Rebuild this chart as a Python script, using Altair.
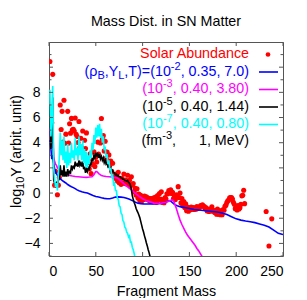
import altair as alt
import pandas as pd

# ---------------- data ----------------
solar_A = [1, 2, 3, 4, 6, 7, 9, 10, 11, 12, 13, 14, 15, 16, 17, 18, 19, 20,
           21, 22, 23, 24, 25, 26, 27, 28, 29, 30, 31, 32, 33, 34, 35, 36, 37, 38, 39, 40,
           41, 42, 43, 44, 45, 46, 47, 48, 49, 50, 51, 52, 53, 54, 55, 56, 57, 58, 59, 60,
           61, 62, 63, 64, 65, 66, 67, 68, 69, 70, 71, 72, 73, 74, 75, 76, 77, 78, 79, 80,
           81, 82, 83, 84, 85, 86, 87, 88, 89, 90, 91, 92, 93, 94, 95, 96, 97, 98, 99, 100,
           101, 102, 103, 104, 105, 106, 107, 108, 109, 110, 111, 112, 113, 114, 115, 116, 117, 118, 119, 120,
           121, 122, 123, 124, 125, 126, 127, 128, 129, 130, 131, 132, 133, 134, 135, 136, 137, 138, 139, 140,
           141, 142, 143, 144, 145, 146, 147, 148, 149, 150, 151, 152, 153, 154, 155, 156, 157, 158, 159, 160,
           161, 162, 163, 164, 165, 166, 167, 168, 169, 170, 171, 172, 173, 174, 175, 176, 177, 178, 179, 180,
           181, 182, 183, 184, 185, 186, 187, 188, 189, 190, 191, 192, 193, 194, 195, 196, 197, 198, 199, 200,
           201, 202, 203, 204, 205, 206, 207, 208, 209, 232, 235, 238]
solar_logY = [10.45, 5.98, 5.59, 9.43, 0.63, 1.72, -0.14, 0.63, 1.23, 7.00, 5.05, 6.49, 4.06, 7.37, 3.96, 4.68, 2.93, 6.49,
              3.97, 5.50, 4.76, 5.93, 5.03, 5.07, 4.93, 5.96, 4.67, 4.49, 4.02, 5.69, 3.61, 4.35, 3.59, 4.93, 3.11, 4.20, 3.54, 4.78,
              2.40, 2.60, 1.92, 3.11, 1.54, 2.30, 2.26, 3.28, 2.11, 2.85, 2.47, 4.05, 3.10, 4.73, 3.98, 5.92, 4.28, 4.56, 3.35, 4.11,
              2.76, 3.26, 2.56, 3.03, 2.20, 2.54, 1.72, 2.37, 1.35, 1.50, 1.18, 1.51, 0.95, 1.65, 0.82, 1.18, 0.69, 1.18, 0.79, 1.51,
              0.77, 1.03, 0.72, 1.42, 0.71, 1.01, 0.56, 1.29, 0.66, 0.76, 0.10, 0.37, -0.15, 0.34, -0.39, -0.07, -0.60, -0.18, -0.64, -0.32,
              -0.51, -0.23, -0.47, -0.30, -0.50, -0.40, -0.60, -0.43, -0.64, -0.44, -0.70, -0.37, -0.70, -0.31, -0.74, -0.19, -0.54, -0.04, -0.48, 0.10,
              -0.74, -0.52, -0.77, -0.36, -0.48, -0.05, -0.05, 0.20, 0.06, 0.25, -0.03, 0.07, -0.43, -0.24, -0.52, -0.13, -0.29, 0.51, -0.35, 0.01,
              -0.78, -0.44, -1.00, -0.68, -1.15, -0.85, -1.40, -1.12, -1.44, -1.18, -1.33, -1.12, -1.29, -1.15, -1.31, -1.17, -1.28, -1.07, -1.22, -1.13,
              -1.13, -0.99, -1.01, -0.94, -1.05, -1.08, -1.24, -1.17, -1.42, -1.35, -1.46, -1.27, -1.40, -1.10, -1.45, -1.39, -1.55, -1.38, -1.68, -1.27,
              -1.68, -1.45, -1.72, -1.39, -1.72, -1.31, -1.36, -1.05, -0.96, -0.75, -0.61, -0.56, -0.38, -0.36, -0.35, -0.47, -0.73, -0.89, -1.24, -1.11,
              -1.35, -1.00, -1.27, -1.17, -0.89, -0.22, -0.18, 0.22, -0.84, -1.47, -4.20, -2.05]

# (rho_B, Y_L, T) = (1e-2, 0.35, 7.0)
blue_A = [1, 2, 3, 4, 5, 6, 7, 8, 9, 10, 12, 14, 16, 18, 20, 22, 24, 26, 28, 30, 32, 35, 38, 41, 44, 47, 50,
          53, 56, 59, 62, 65, 68, 71, 74, 77, 80, 83, 86, 89, 92, 95, 98, 101, 105, 110, 115, 120, 124, 127,
          129, 131, 134, 137, 140, 145, 150, 155, 160, 165, 170, 175, 180, 185, 190, 195, 200, 205, 210,
          215, 220, 225, 230, 235, 240, 245, 250]
blue_Y = [4.2, 3.55, 2.7, 3.0, 2.4, 1.9, 1.7, 1.55, 1.4, 1.3, 1.15, 1.0, 0.9, 0.8, 0.68, 0.58, 0.5, 0.43, 0.35, 0.25, 0.18, 0.1, 0.05, 0.0, -0.1, -0.2, -0.27,
          -0.32, -0.38, -0.42, -0.45, -0.45, -0.4, -0.32, -0.3, -0.32, -0.35, -0.42, -0.5, -0.6, -0.72, -0.8, -0.84, -0.86, -0.87, -0.86, -0.85, -0.82, -0.75, -0.65,
          -0.6, -0.7, -0.9, -1.0, -1.08, -1.15, -1.22, -1.3, -1.35, -1.38, -1.42, -1.46, -1.5, -1.58, -1.7, -1.88, -2.05, -2.15, -2.22,
          -2.28, -2.35, -2.45, -2.55, -2.7, -2.95, -3.2, -3.3]

# (1e-3, 0.40, 3.80)
mag_A = [1, 2, 3, 4, 5, 6, 7, 8, 9, 10, 11, 12, 13, 14, 15, 16, 17, 18, 20, 22, 25, 28, 31, 34, 37, 40, 43, 46,
         48, 49, 50, 51, 52, 53, 54, 55, 56, 58, 61, 64, 67, 70, 73, 76, 80, 84, 88, 92, 96, 100, 104, 108, 112,
         116, 120, 124, 128, 131, 133, 134, 136, 138, 140, 142, 144, 146, 148, 150, 152, 154, 156, 158, 160, 162, 164]
mag_Y = [5.2, 4.0, 3.6, 4.4, 2.9, 2.5, 2.3, 2.2, 2.0, 1.95, 1.85, 1.9, 1.7, 1.7, 1.6, 1.65, 1.5, 1.5, 1.45, 1.4, 1.35, 1.32, 1.3, 1.28, 1.26, 1.25, 1.27, 1.3,
         1.45, 1.6, 1.7, 1.7, 1.65, 1.55, 1.5, 1.45, 1.4, 1.35, 1.32, 1.3, 1.27, 1.24, 1.2, 1.0, 0.75, 0.5, 0.25, 0.0, -0.25, -0.45, -0.6, -0.7, -0.8,
         -0.82, -0.8, -0.75, -0.65, -0.55, -0.6, -0.8, -1.2, -1.7, -2.15, -2.5, -2.8, -3.1, -3.35, -3.55, -3.75, -3.95, -4.15, -4.4, -4.6, -4.85, -5.1]

# (1e-5, 0.40, 1.44)
blk_A = list(range(1, 109))
blk_Y = [7.0, 3.5, 4.5, 7.6, 1.0, 0.8, 0.6, 0.8, 0.6, 1.0, 1.2, 2.2, 1.4, 1.8, 1.3, 2.2, 1.3, 1.7, 1.3, 1.9,
         1.5, 1.7, 1.6, 2.2, 1.9, 2.1, 2.0, 2.5, 2.2, 2.3, 2.1, 2.6, 2.2, 2.4, 2.1, 2.5, 1.9, 2.1, 1.6, 1.9,
         1.7, 2.0, 1.9, 2.3, 2.3, 2.7, 2.6, 3.0, 2.8, 3.2, 2.9, 3.2, 2.8, 3.1, 2.7, 2.9, 2.6, 2.8, 2.4, 2.6,
         2.3, 2.4, 2.1, 2.2, 1.9, 2.0, 1.7, 1.8, 1.6, 1.6, 1.45, 1.5, 1.35, 1.4, 1.3, 1.3, 1.2, 1.2, 1.1, 1.1,
         1.0, 1.0, 0.95, 1.0, 0.85, 0.8, 0.6, 0.3, -0.2, -0.5, -0.75, -0.95, -1.2, -1.4, -1.55, -1.75, -1.95, -2.25, -2.55, -2.85,
         -3.1, -3.4, -3.65, -3.95, -4.2, -4.5, -4.75, -5.05]

# (1e-7, 0.40, 0.80)
cyn_A = list(range(1, 93))
cyn_Y = [8.2, 4.5, 6.0, 8.5, 2.0, 1.0, 0.5, 0.8, 0.2, 1.5, 2.8, 4.8, 3.0, 4.2, 2.6, 4.5, 2.4, 3.3, 2.0, 3.9,
         2.2, 3.2, 2.4, 4.0, 2.8, 3.4, 2.6, 4.4, 3.0, 3.6, 2.6, 4.5, 3.0, 3.9, 2.6, 4.2, 2.4, 3.5, 2.1, 3.3,
         2.0, 3.0, 2.3, 3.4, 2.8, 4.0, 3.4, 4.6, 3.9, 5.2, 4.4, 5.4, 4.5, 5.5, 4.4, 5.1, 4.0, 4.5, 3.4, 3.7,
         2.8, 3.1, 2.3, 2.6, 1.8, 2.0, 1.3, 1.4, 0.7, 0.8, 0.2, 0.2, -0.4, -0.5, -1.0, -1.1, -1.6, -1.7, -2.2, -2.3,
         -2.7, -2.8, -3.1, -3.2, -3.5, -3.4, -3.9, -3.9, -4.3, -4.5, -4.8, -5.2]

series_names = ["1e-2", "1e-3", "1e-5", "1e-7"]
series_colors = ["#0000ff", "#ff00ff", "#000000", "#00ffff"]

x_ticks = [0, 50, 100, 150, 200, 250]
y_labels = [-4, -2, 0, 2, 4, 6, 8]
y_major = [-4, -2, 0, 2, 4, 6, 8, 10]
y_minor = [-5, -3, -1, 1, 3, 5, 7, 9, 11]

# ---------------- layout ----------------
W, H = 234, 214
FONT = "Liberation Sans"
FS, SS = 14.3, 11

x_enc = alt.X("A:Q", scale=alt.Scale(domain=[0, 250], nice=False, zero=False),
              axis=alt.Axis(values=x_ticks, ticks=False, domain=False, grid=False,
                            labelFontSize=14, labelPadding=8, title="Fragment Mass",
                            titleFontSize=FS, titleFontWeight="normal", titlePadding=6,
                            labelColor="black", titleColor="black"))
y_enc = alt.Y("Y:Q", scale=alt.Scale(domain=[-5, 12], nice=False, zero=False),
              axis=alt.Axis(values=y_labels, ticks=False, domain=False, grid=False,
                            labelFontSize=14, labelPadding=9, title=None,
                            labelColor="black"))

solar = pd.DataFrame({"A": solar_A, "Y": solar_logY})
frames = []
for name, a, y in zip(series_names, [blue_A, mag_A, blk_A, cyn_A], [blue_Y, mag_Y, blk_Y, cyn_Y]):
    frames.append(pd.DataFrame({"A": a, "Y": y, "s": name}))

layers = []
layers.append(alt.Chart(solar).mark_circle(color="#ff0000", size=26, opacity=1, clip=True)
              .encode(x=x_enc, y=y_enc))
for df, col in zip(frames, series_colors):
    layers.append(alt.Chart(df).mark_line(color=col, strokeWidth=1.6, clip=True)
                  .encode(x=x_enc, y=y_enc, order="A:Q"))

# inward ticks (mirror on all four sides)
TC = "#555555"
xt = pd.DataFrame({"A": x_ticks})
layers.append(alt.Chart(xt).mark_rule(color=TC).encode(x=x_enc, y=alt.value(H), y2=alt.value(H - 4)))
layers.append(alt.Chart(xt).mark_rule(color=TC).encode(x=x_enc, y=alt.value(0), y2=alt.value(4)))
for vals, ln in [(y_major, 4), (y_minor, 2.5)]:
    yt = pd.DataFrame({"Y": vals})
    layers.append(alt.Chart(yt).mark_rule(color=TC).encode(y=y_enc, x=alt.value(0), x2=alt.value(ln)))
    layers.append(alt.Chart(yt).mark_rule(color=TC).encode(y=y_enc, x=alt.value(W), x2=alt.value(W - ln)))

# ---------------- legend (gnuplot style) ----------------
CW = {'(': 333, ')': 333, 'ρ': 578, 'B': 667, ',': 278, 'Y': 667, 'L': 556, 'T': 611, '=': 584,
      '-': 333, ' ': 278, '\u00a0': 278, '.': 278, 'f': 278, 'm': 833, 'M': 833, 'e': 556, 'V': 667,
      'l': 222, 'o': 556, 'g': 556, 'a': 556, 'r': 333, 'b': 556, 'i': 222, 't': 278, 'u': 556, 'n': 556}


def width(txt, fs):
    return sum(CW.get(c, 556) for c in txt) / 1000.0 * fs


def piece(txt, x, y, color, fs, align="right", angle=0):
    return (alt.Chart(pd.DataFrame({"t": [txt]}))
            .mark_text(align=align, baseline="middle", fontSize=fs, font=FONT, color=color, angle=angle)
            .encode(text="t:N", x=alt.value(x), y=alt.value(y)))


def group(segs, right, y, color):
    out = []
    cur = right
    for txt, kind in reversed(segs):
        fs = FS if kind == "n" else SS
        dy = 0 if kind == "n" else (4 if kind == "sub" else -5)
        out.append(piece(txt, cur, y + dy, color, fs))
        cur -= width(txt, fs)
    return out


RX = 200
rows_y = [12, 29.5, 47, 64.5, 82, 99]
legend_rows = [
    ("#ff0000", [(RX, [("Solar Abundance", "n")])]),
    ("#0000ff", [(RX, [("(ρ", "n"), ("B", "sub"), (",Y", "n"), ("L", "sub"), (",T)=(10", "n"),
                       ("-2", "sup"), (", 0.35, 7.0)", "n")])]),
    ("#ff00ff", [(RX, [("(10", "n"), ("-3", "sup"), (", 0.40, 3.80)", "n")])]),
    ("#000000", [(RX, [("(10", "n"), ("-5", "sup"), (", 0.40, 1.44)", "n")])]),
    ("#00ffff", [(RX, [("(10", "n"), ("-7", "sup"), (", 0.40, 0.80)", "n")])]),
    ("#000000", [(127, [("(fm", "n"), ("-3", "sup"), (",", "n")]), (RX, [("1, MeV)", "n")])]),
]
for (col, groups), ry in zip(legend_rows, rows_y):
    for right, segs in groups:
        layers += group(segs, right, ry, col)

one = pd.DataFrame({"k": [0]})
layers.append(alt.Chart(one).mark_circle(color="#ff0000", size=22, opacity=1)
              .encode(x=alt.value(219), y=alt.value(rows_y[0] + 0.5)))
for col, ry in zip(series_colors, rows_y[1:5]):
    layers.append(alt.Chart(one).mark_rule(color=col, strokeWidth=1.6)
                  .encode(x=alt.value(210), x2=alt.value(229), y=alt.value(ry + 0.5)))

# y-axis title with subscript, drawn as rotated text pieces
TX = -32
ty = 166
layers.append(piece("log", TX, ty, "black", FS, align="left", angle=270))
ty -= width("log", FS)
layers.append(piece("10", TX + 4, ty, "black", SS, align="left", angle=270))
ty -= width("10", SS)
layers.append(piece("\u00a0Y (arbit. unit)", TX, ty, "black", FS, align="left", angle=270))

chart = (alt.layer(*layers)
         .properties(width=W, height=H,
                     title=alt.TitleParams("Mass Dist. in SN Matter", fontSize=FS, fontWeight="normal",
                                           font=FONT, color="black", anchor="middle", offset=12),
                     autosize=alt.AutoSizeParams(type="none"),
                     padding={"left": 41, "top": 34, "right": 5, "bottom": 42})
         .configure(font=FONT)
         .configure_view(stroke="#555555", strokeWidth=1)
         .configure_axis(labelFont=FONT, titleFont=FONT))

chart.save("out.html", embed_options={"renderer": "svg", "actions": False})
